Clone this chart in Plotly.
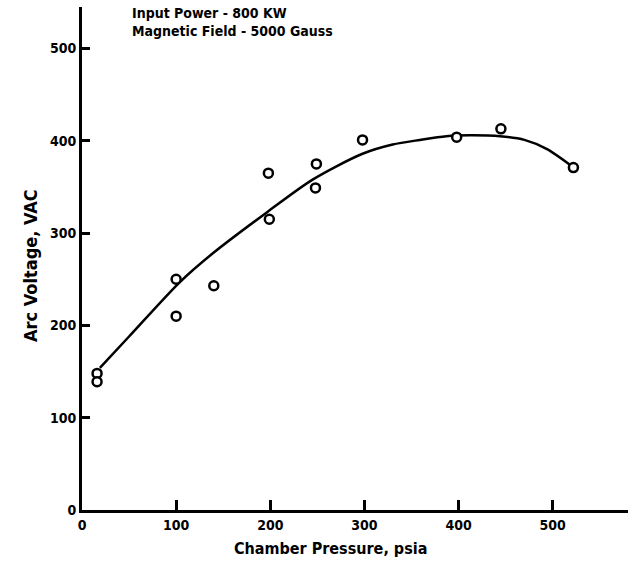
import plotly.graph_objects as go

# measured data points
pressure = [16, 16, 100, 100, 140, 198, 199, 249, 248, 298, 398, 445, 522]
voltage = [148, 139, 250, 210, 243, 365, 315, 375, 349, 401, 404, 413, 371]

# fitted curve
curve_p = [19, 50, 104, 140, 197, 245, 298, 330, 359, 387, 412, 444, 470, 494, 521]
curve_v = [154, 188, 247, 279, 323, 358, 386, 396, 401, 405, 406, 405, 401, 391, 372]

x_ticks = [0, 100, 200, 300, 400, 500]
y_ticks = [0, 100, 200, 300, 400, 500]

font_fam = "DejaVu Sans Condensed, DejaVu Sans, sans-serif"

fig = go.Figure()
fig.add_trace(go.Scatter(x=curve_p, y=curve_v, mode="lines",
                         line=dict(color="black", width=2.5, shape="spline", smoothing=0.8),
                         hoverinfo="skip"))
fig.add_trace(go.Scatter(x=pressure, y=voltage, mode="markers",
                         marker=dict(symbol="circle", size=9, color="white",
                                     line=dict(color="black", width=2.5))))

fig.update_layout(
    width=633, height=565,
    margin=dict(l=82, r=5, t=7, b=55),
    paper_bgcolor="white", plot_bgcolor="white",
    showlegend=False,
    font=dict(family=font_fam, color="black", size=15, weight="bold"),
    xaxis=dict(range=[0, 580], tickvals=x_ticks, ticktext=[str(v) for v in x_ticks],
               showgrid=False, zeroline=False, showline=True, linecolor="black", linewidth=3,
               ticks="inside", ticklen=10, tickwidth=2.5, tickcolor="black",
               tickfont=dict(size=14, family=font_fam, weight="bold")),
    yaxis=dict(range=[0, 545], tickvals=y_ticks, ticktext=[str(v) for v in y_ticks],
               showgrid=False, zeroline=False, showline=True, linecolor="black", linewidth=3,
               ticks="inside", ticklen=8, tickwidth=2.5, tickcolor="black",
               tickfont=dict(size=14, family=font_fam, weight="bold")),
    annotations=[
        dict(text="Input Power - 800 KW<br>Magnetic Field - 5000 Gauss",
             xref="paper", yref="paper", x=0.088, y=1.008, xanchor="left", yanchor="top",
             showarrow=False, align="left", font=dict(size=14, family=font_fam, weight="bold")),
        dict(text="Chamber Pressure, psia", xref="paper", yref="paper",
             x=(330 - 82) / 546, y=(510 - 548) / 503, xanchor="center", yanchor="middle",
             showarrow=False, font=dict(size=16, family=font_fam, weight="bold")),
        dict(text="Arc Voltage, VAC", xref="paper", yref="paper",
             x=(30 - 82) / 546, y=(510 - 266) / 503, xanchor="center", yanchor="middle",
             textangle=-90, showarrow=False, font=dict(size=18, family=font_fam, weight="bold")),
    ],
)

fig.write_html("out.html")
